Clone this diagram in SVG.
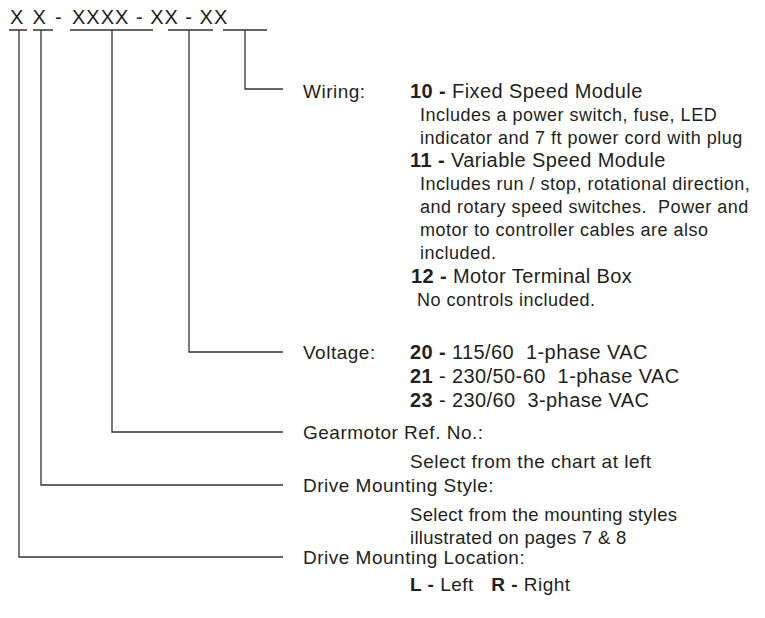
<svg xmlns="http://www.w3.org/2000/svg" width="765" height="618" viewBox="0 0 765 618">
<style>
  text { font-family: "Liberation Sans", Arial, sans-serif; fill: #231f20; }
  .code { font-size: 20px; letter-spacing: 1px; }
  .lbl { font-size: 19px; letter-spacing: 0.5px; }
  .hd { font-size: 20px; letter-spacing: 0.4px; }
  .b { font-weight: bold; }
  .ds { font-size: 18px; letter-spacing: 0.5px; }
  .ds2 { font-size: 18.5px; letter-spacing: 0.3px; }
  .ln { stroke: #333; stroke-width: 1.3; fill: none; }
</style>
<rect width="765" height="618" fill="#fff"/>
<g id="code">
  <text class="code" x="10" y="24" xml:space="preserve" style="letter-spacing:1.8px">X X -</text>
  <text class="code" x="72" y="24" xml:space="preserve">XXXX - XX - XX</text>
</g>
<g id="connectors" class="ln">
  <path d="M9 30H27M33 30H53M70 30H153M168 30H213M223 30H267"/>
  <path d="M245 30V89H283"/>
  <path d="M189 30V352H283"/>
  <path d="M112 30V432H283"/>
  <path d="M41 30V485H283"/>
  <path d="M19 30V557H283"/>
</g>
<g id="wiring">
  <text class="lbl" x="303" y="98">Wiring:</text>
  <text class="hd" x="410" y="98"><tspan class="b">10 - </tspan>Fixed Speed Module</text>
  <text class="ds" x="420" y="121">Includes a power switch, fuse, LED</text>
  <text class="ds" x="420" y="144">indicator and 7 ft power cord with plug</text>
  <text class="hd" x="410" y="167"><tspan class="b">11 - </tspan>Variable Speed Module</text>
  <text class="ds" x="420" y="190">Includes run / stop, rotational direction,</text>
  <text class="ds" x="420" y="213" xml:space="preserve">and rotary speed switches.  Power and</text>
  <text class="ds" x="420" y="236">motor to controller cables are also</text>
  <text class="ds" x="420" y="259">included.</text>
  <text class="hd" x="411" y="283"><tspan class="b">12 - </tspan>Motor Terminal Box</text>
  <text class="ds" x="417" y="306">No controls included.</text>
</g>
<g id="voltage">
  <text class="lbl" x="303" y="359">Voltage:</text>
  <text class="hd" x="410" y="359" xml:space="preserve"><tspan class="b">20 - </tspan>115/60  1-phase VAC</text>
  <text class="hd" x="410" y="383" xml:space="preserve"><tspan class="b">21</tspan> - 230/50-60  1-phase VAC</text>
  <text class="hd" x="410" y="407" xml:space="preserve"><tspan class="b">23</tspan> - 230/60  3-phase VAC</text>
</g>
<g id="gearmotor">
  <text class="lbl" x="303" y="439">Gearmotor Ref. No.:</text>
  <text class="lbl" x="410" y="468">Select from the chart at left</text>
</g>
<g id="mounting-style">
  <text class="lbl" x="303" y="492">Drive Mounting Style:</text>
  <text class="ds2" x="410" y="521">Select from the mounting styles</text>
  <text class="ds2" x="410" y="544">illustrated on pages 7 &amp; 8</text>
</g>
<g id="mounting-location">
  <text class="lbl" x="303" y="564">Drive Mounting Location:</text>
  <text class="lbl" x="410" y="591" xml:space="preserve"><tspan class="b">L - </tspan>Left   <tspan class="b">R - </tspan>Right</text>
</g>
</svg>
